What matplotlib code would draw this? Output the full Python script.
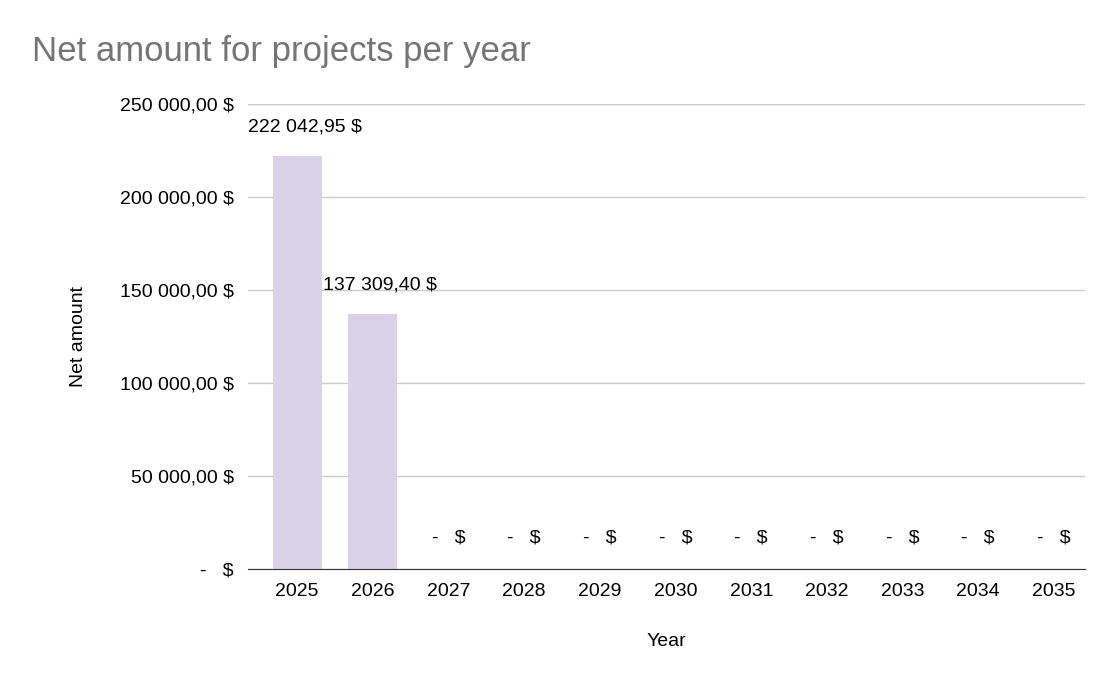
import matplotlib.pyplot as plt

plt.rcParams['font.family'] = ['Liberation Sans', 'DejaVu Sans']

years = ['2025', '2026', '2027', '2028', '2029', '2030', '2031', '2032', '2033', '2034', '2035']
amounts = [222042.95, 137309.40, 0, 0, 0, 0, 0, 0, 0, 0, 0]
yticks = [0, 50000, 100000, 150000, 200000, 250000]


def money(v):
    if v == 0:
        return '-   $'
    s = f'{v:,.2f}'.replace(',', ' ').replace('.', ',')
    return s + ' $'


fig = plt.figure(figsize=(11.1, 6.73), dpi=100)
ax = fig.add_axes([248 / 1110, 1 - 569 / 673, (1085 - 248) / 1110, (569 - 104) / 673])

x = range(len(years))
ax.bar(x, amounts, width=0.65, color='#d9d2e9', zorder=2)

for i, v in enumerate(amounts):
    if v == 0:
        ax.text(i, 12000, '-   $', ha='center', va='bottom', fontsize=14)
    else:
        ax.text(i + 0.1, v + 11000, money(v), ha='center', va='bottom', fontsize=14)

ax.set_ylim(0, 250000)
ax.set_xlim(-0.65, 10.41)
ax.set_yticks(yticks)
ax.set_yticklabels([money(t) for t in yticks], fontsize=14)
ax.set_xticks(list(x))
ax.set_xticklabels(years, fontsize=14)
ax.tick_params(length=0, pad=10)
ax.grid(axis='y', color='#cccccc', linewidth=1, zorder=0)
for s in ['left', 'right', 'top']:
    ax.spines[s].set_visible(False)
ax.spines['bottom'].set_color('#333333')
ax.set_xlabel('Year', fontsize=14, labelpad=24)
ax.set_ylabel('Net amount', fontsize=14, labelpad=24)

fig.text(32 / 1110, 1 - 52 / 673, 'Net amount for projects per year', fontsize=25,
         color='#757575', va='center', ha='left')

fig.savefig('out.png', dpi=100)
